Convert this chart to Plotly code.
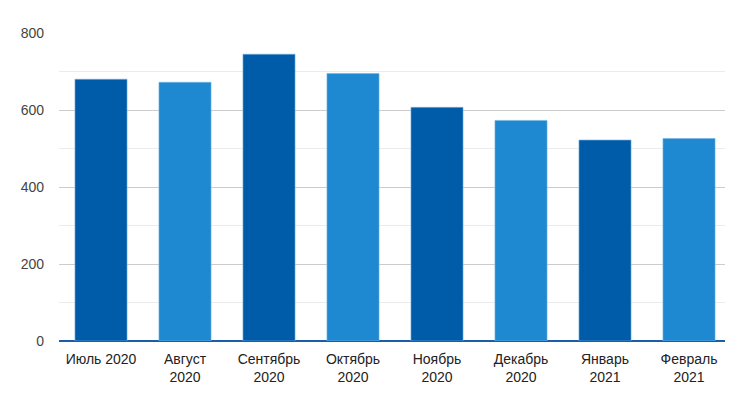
import plotly.graph_objects as go

months = ["Июль 2020", "Август<br>2020", "Сентябрь<br>2020", "Октябрь<br>2020",
          "Ноябрь<br>2020", "Декабрь<br>2020", "Январь<br>2021", "Февраль<br>2021"]
values = [680, 672, 745, 695, 607, 573, 522, 526]
colors = ["#005BA8", "#1E88D0", "#005BA8", "#1E88D0",
          "#005BA8", "#1E88D0", "#005BA8", "#1E88D0"]
y_ticks = [0, 200, 400, 600, 800]

fig = go.Figure(go.Bar(
    x=list(range(len(months))),
    y=values,
    marker=dict(color=colors, line=dict(color="rgba(120,180,230,0.6)", width=1)),
    hoverinfo="skip",
))

fig.update_layout(
    width=725, height=398,
    margin=dict(l=51, r=2, t=25, b=65),
    paper_bgcolor="white", plot_bgcolor="white",
    bargap=0.38,
    showlegend=False,
    font=dict(family="Liberation Sans, Arial, sans-serif", size=14, color="#333333"),
)
fig.update_xaxes(
    tickmode="array", tickvals=list(range(len(months))), ticktext=months,
    range=[-0.5, len(months) - 0.5],
    showgrid=False, showline=False, ticks="",
    tickfont=dict(size=14, color="#222222"),
    ticklabelstandoff=8,
)
fig.update_yaxes(
    range=[0, 800], tickmode="array", tickvals=y_ticks,
    showgrid=True, gridcolor="#cccccc", gridwidth=1,
    minor=dict(dtick=100, tick0=0, showgrid=True, gridcolor="#ebebeb", gridwidth=1),
    zeroline=True, zerolinecolor="#1A5EA8", zerolinewidth=1.5,
    showline=False, ticks="", ticklen=0,
    tickfont=dict(size=14, color="#444444"),
    ticklabelstandoff=14,
)

fig.write_html("out.html")
